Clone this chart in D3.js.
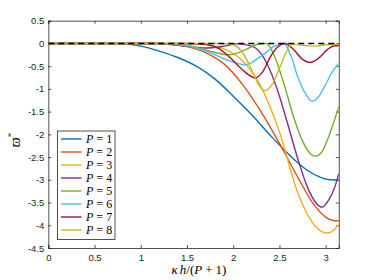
<!DOCTYPE html>
<html>
<head>
<meta charset="utf-8">
<script src="https://cdn.jsdelivr.net/npm/d3@7"></script>
<style>
  body { margin: 0; background: #fff; }
  .axis text { font-family: "Liberation Sans", Arial, sans-serif; font-size: 9.5px; fill: #262626; }
  .axis path, .axis line { stroke: #262626; stroke-width: 0.8px; }
  .lbl { font-family: "Liberation Serif", "DejaVu Serif", serif; fill: #000; }
</style>
</head>
<body>
<svg id="chart" width="374" height="280"></svg>
<script>
// data: [kappa h/(P+1), varpi*]
const PI = Math.PI
const p1 = [[0,0],[0.6,0],[0.8,-0.01],[1.0,-0.06],[1.2,-0.17],[1.4,-0.31],[1.6,-0.5],[1.8,-0.78],[2.0,-1.16],[2.2,-1.57],[2.4,-2.02],[2.6,-2.44],[2.8,-2.79],[2.95,-2.95],[3.05,-3.0],[PI,-3.01]]
const p2 = [[0,0],[1.1,0],[1.3,-0.02],[1.5,-0.07],[1.7,-0.2],[1.9,-0.45],[2.1,-0.9],[2.3,-1.5],[2.5,-2.2],[2.7,-2.95],[2.85,-3.48],[3.0,-3.82],[3.1,-3.9],[PI,-3.9]]
const p3 = [[0,0],[1.4,0],[1.7,-0.03],[1.9,-0.12],[2.1,-0.38],[2.3,-0.95],[2.5,-1.95],[2.7,-3.3],[2.8,-3.75],[2.9,-4.05],[2.97,-4.15],[3.02,-4.17],[3.08,-4.12],[PI,-3.98]]
const p4 = [[0,0],[1.2,0],[1.45,-0.05],[1.7,-0.1],[1.9,-0.06],[2.05,-0.01],[2.2,-0.06],[2.3,-0.22],[2.4,-0.6],[2.5,-1.16],[2.6,-1.85],[2.7,-2.55],[2.8,-3.15],[2.9,-3.52],[2.96,-3.6],[3.03,-3.45],[3.1,-3.15],[PI,-2.86]]
const p5 = [[0,0],[1.2,0],[1.5,-0.04],[1.75,-0.17],[1.95,-0.25],[2.1,-0.17],[2.25,-0.03],[2.36,0],[2.45,-0.3],[2.55,-0.9],[2.65,-1.6],[2.75,-2.15],[2.83,-2.42],[2.89,-2.48],[2.96,-2.38],[3.05,-1.95],[PI,-1.39]]
const p6 = [[0,0],[1.2,0],[1.5,-0.05],[1.75,-0.2],[1.95,-0.38],[2.13,-0.47],[2.3,-0.28],[2.45,-0.06],[2.55,0],[2.62,-0.25],[2.7,-0.75],[2.78,-1.1],[2.85,-1.27],[2.92,-1.18],[3.0,-0.9],[3.07,-0.63],[PI,-0.44]]
const p7 = [[0,0],[1.5,0],[1.7,-0.02],[1.85,-0.12],[1.95,-0.28],[2.1,-0.58],[2.235,-0.755],[2.32,-0.62],[2.4,-0.3],[2.48,-0.08],[2.56,0],[2.65,-0.13],[2.75,-0.35],[2.83,-0.42],[2.92,-0.33],[3.02,-0.13],[3.1,-0.05],[PI,-0.05]]
const p8 = [[0,0],[1.8,0],[2.0,-0.03],[2.1,-0.2],[2.2,-0.58],[2.28,-0.93],[2.34,-1.04],[2.42,-0.9],[2.5,-0.55],[2.57,-0.2],[2.63,-0.02],[2.75,-0.04],[2.88,-0.06],[3.0,-0.03],[PI,-0.02]]

const series = [p1, p2, p3, p4, p5, p6, p7, p8]
const names = ['1','2','3','4','5','6','7','8']
const colors = ['#0072bd','#d95319','#edb120','#7e2f8e','#77ac30','#4dbeee','#a2142f','#bfbf26']
const xTicks = [0, 0.5, 1, 1.5, 2, 2.5, 3]
const yTicks = [0.5, 0, -0.5, -1, -1.5, -2, -2.5, -3, -3.5, -4, -4.5]

const W = 374, H = 280
const m = {top: 20.7, right: 35.2, bottom: 32, left: 48.3}
const iw = W - m.left - m.right, ih = H - m.top - m.bottom

const svg = d3.select('#chart')
const g = svg.append('g').attr('transform', `translate(${m.left},${m.top})`)

const x = d3.scaleLinear().domain([0, PI]).range([0, iw])
const y = d3.scaleLinear().domain([-4.5, 0.5]).range([ih, 0])

const fmt = d => d3.format('')(d).replace('−', '-')

// axes, ticks pointing inside like matlab
g.append('g').attr('class', 'axis').attr('transform', `translate(0,${ih})`)
  .call(d3.axisBottom(x).tickValues(xTicks).tickSize(-3).tickPadding(6).tickFormat(fmt))
g.append('g').attr('class', 'axis')
  .call(d3.axisTop(x).tickValues(xTicks).tickSize(-3).tickFormat(''))
g.append('g').attr('class', 'axis')
  .call(d3.axisLeft(y).tickValues(yTicks).tickSize(-3).tickPadding(4).tickFormat(fmt))
g.append('g').attr('class', 'axis').attr('transform', `translate(${iw},0)`)
  .call(d3.axisRight(y).tickValues(yTicks).tickSize(-3).tickFormat(''))
g.selectAll('.axis .domain').attr('stroke', '#262626')

const line = d3.line().x(d => x(d[0])).y(d => y(d[1])).curve(d3.curveMonotoneX)

const clip = g.append('clipPath').attr('id', 'clip').append('rect').attr('width', iw).attr('height', ih)
const plot = g.append('g').attr('clip-path', 'url(#clip)')

series.forEach((s, i) => {
  plot.append('path').datum(s).attr('d', line)
    .attr('fill', 'none').attr('stroke', colors[i]).attr('stroke-width', 1.4)
})

// zero reference, dashed, drawn last
plot.append('line')
  .attr('x1', x(0)).attr('x2', x(PI)).attr('y1', y(0)).attr('y2', y(0))
  .attr('stroke', '#000').attr('stroke-width', 1.4).attr('stroke-dasharray', '6,4')

// legend
const lg = svg.append('g').attr('transform', 'translate(57.5,131)')
lg.append('rect').attr('width', 57.5).attr('height', 108.5)
  .attr('fill', '#fff').attr('stroke', '#262626').attr('stroke-width', 0.8)
names.forEach((n, i) => {
  const yy = 8 + i * 13
  lg.append('line').attr('x1', 3.5).attr('x2', 24).attr('y1', yy).attr('y2', yy)
    .attr('stroke', colors[i]).attr('stroke-width', 1.4)
  const t = lg.append('text').attr('class', 'lbl').attr('x', 28.5).attr('y', yy + 4)
    .attr('font-size', 12)
  t.append('tspan').attr('font-style', 'italic').text('P')
  t.append('tspan').attr('dx', 3).text('=')
  t.append('tspan').attr('dx', 3).text(n)
})

// axis labels
const xl = svg.append('text').attr('class', 'lbl').attr('x', 199).attr('y', 274)
  .attr('text-anchor', 'middle').attr('font-size', 13)
xl.append('tspan').attr('font-style', 'italic').text('κ')
xl.append('tspan').attr('font-style', 'italic').attr('dx', 2).text('h')
xl.append('tspan').text('/(')
xl.append('tspan').attr('font-style', 'italic').text('P')
xl.append('tspan').attr('dx', 3).text('+')
xl.append('tspan').attr('dx', 3).text('1)')

const yl = svg.append('text').attr('class', 'lbl')
  .attr('transform', 'translate(20,140) rotate(-90)')
  .attr('text-anchor', 'middle').attr('font-size', 14)
yl.append('tspan').attr('font-style', 'italic').text('ϖ')
yl.append('tspan').attr('font-size', 9).attr('dy', -6).text('*')
</script>
</body>
</html>
